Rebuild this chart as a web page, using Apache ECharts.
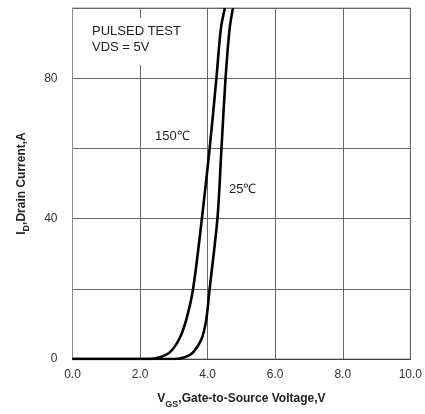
<!DOCTYPE html>
<html>
<head>
<meta charset="utf-8">
<style>
  html, body { margin: 0; padding: 0; background: #fff; }
  #chart { width: 425px; height: 414px; }
</style>
<script src="https://cdn.jsdelivr.net/npm/echarts@6/dist/echarts.min.js"></script>
</head>
<body>
<div id="chart"></div>
<script>
// Transfer characteristics: drain current vs gate-to-source voltage
const vgs150 = [0, 2.29, 2.58, 2.88, 3.16, 3.37, 3.57, 3.83, 4.06, 4.26, 4.39, 4.51];
const id150  = [0, 0,    0.5,  1.9,  5.7,  11.3, 20,   40,   60,   80,   94,   100];
const vgs25  = [0, 3.03, 3.32, 3.57, 3.82, 3.96, 4.06, 4.29, 4.41, 4.53, 4.65, 4.75];
const id25   = [0, 0,    0.5,  1.9,  5.7,  11.3, 20,   40,   60,   80,   94,   100];

const xTicks = [0, 2, 4, 6, 8, 10];
const yLabelValues = [0, 40, 80];

const toPairs = (xs, ys) => xs.map((x, i) => [x, ys[i]]);

const chart = echarts.init(document.getElementById('chart'));
const font = 'Liberation Sans, Arial, sans-serif';

const nameRich = {
  m: { fontFamily: font, fontSize: 12, fontWeight: 'bold', color: '#222', lineHeight: 14, verticalAlign: 'middle' },
  s: { fontFamily: font, fontSize: 9, fontWeight: 'bold', color: '#222', lineHeight: 14, verticalAlign: 'bottom', padding: [0, 0, -3, 0] }
};

chart.setOption({
  animation: false,
  grid: { left: 72.5, right: 14, top: 8, bottom: 50, show: true, borderColor: '#8a8a8a', borderWidth: 1 },
  xAxis: {
    type: 'value', min: 0, max: 10, interval: 2,
    axisLine: { show: true, lineStyle: { color: '#444', width: 1 } },
    axisTick: { show: false },
    splitLine: { show: true, lineStyle: { color: '#666', width: 1 } },
    axisLabel: { color: '#333', fontFamily: font, fontSize: 12, margin: 10,
      formatter: v => xTicks.includes(v) ? v.toFixed(1) : '' },
    name: '{m|V}{s|GS}{m|,Gate-to-Source Voltage,V}',
    nameLocation: 'middle', nameGap: 33,
    nameTextStyle: { rich: nameRich }
  },
  yAxis: {
    type: 'value', min: 0, max: 100, interval: 20,
    axisLine: { show: true, lineStyle: { color: '#8a8a8a', width: 1 } },
    axisTick: { show: false },
    splitLine: { show: true, lineStyle: { color: '#666', width: 1 } },
    axisLabel: { color: '#333', fontFamily: font, fontSize: 12, margin: 15,
      formatter: v => yLabelValues.includes(v) ? String(v) : '' },
    name: '{m|I}{s|D}{m|,Drain Current,A}',
    nameLocation: 'middle', nameGap: 44, nameRotate: 90,
    nameTextStyle: { rich: nameRich }
  },
  series: [
    {
      name: '150℃', type: 'line', data: toPairs(vgs150, id150),
      smooth: 0.3, showSymbol: false, clip: true,
      lineStyle: { color: '#000', width: 2.6 }
    },
    {
      name: '25℃', type: 'line', data: toPairs(vgs25, id25),
      smooth: 0.3, showSymbol: false, clip: true,
      lineStyle: { color: '#000', width: 2.6 }
    }
  ],
  graphic: [
    {
      type: 'text', left: 88, top: 18, z: 10,
      style: {
        text: 'PULSED TEST\nVDS = 5V', fontFamily: font, fontSize: 13, fill: '#222',
        lineHeight: 16, backgroundColor: '#fff', padding: [5, 4, 10, 4]
      }
    },
    {
      type: 'text', left: 155, top: 130, z: 10,
      style: { text: '150℃', fontFamily: font, fontSize: 13, fill: '#222' }
    },
    {
      type: 'text', left: 229, top: 183, z: 10,
      style: { text: '25℃', fontFamily: font, fontSize: 13, fill: '#222' }
    }
  ]
});
</script>
</body>
</html>
